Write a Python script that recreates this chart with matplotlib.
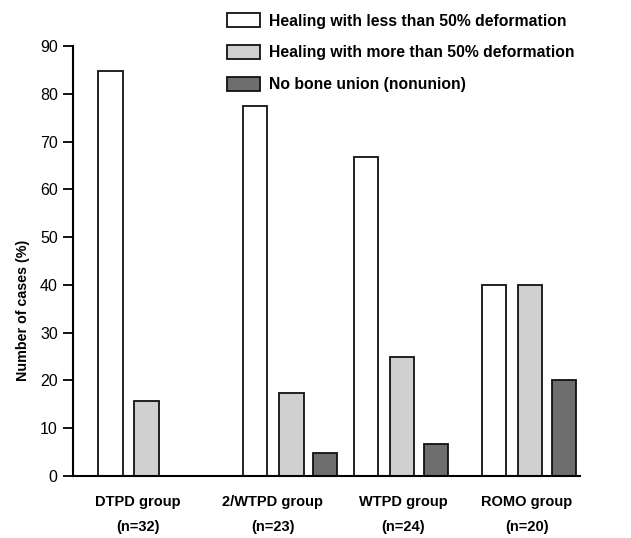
import numpy as np
import matplotlib
matplotlib.use("Agg")
import matplotlib.pyplot as plt

plt.rcParams['font.family'] = ['Liberation Sans', 'DejaVu Sans']

groups = ['DTPD group\n(n=32)', '2/WTPD group\n(n=23)', 'WTPD group\n(n=24)', 'ROMO group\n(n=20)']
less50 = [84.7, 77.4, 66.7, 40.0]
more50 = [15.6, 17.4, 24.9, 40.0]
nonunion = [0, 4.8, 6.7, 20.0]
series_names = ['Healing with less than 50% deformation',
                'Healing with more than 50% deformation',
                'No bone union (nonunion)']
colors = ['white', '#d0d0d0', '#6e6e6e']

# layout (in bar slots)
group_x = np.array([0, 4.14, 7.29, 10.96])
offsets = [0, 1.03, 2.0]
label_x = np.array([0.79, 4.64, 8.36, 11.9])
bw = 0.69

fig = plt.figure(figsize=(6.31, 5.38), dpi=100)
ax = fig.add_axes([0.1157, 0.1152, 0.8033, 0.7993])

handles = []
for vals, off, c, name in zip([less50, more50, nonunion], offsets, colors, series_names):
    v = np.array(vals)
    keep = v > 0
    h = ax.bar(group_x[keep] + off, v[keep], width=bw, color=c,
               edgecolor='#111111', linewidth=1.3, label=name)
    handles.append(h)

ax.set_xlim(-1.07, 13.41)
ax.set_ylim(0, 90)
ax.set_yticks(range(0, 91, 10))
ax.set_xticks(label_x)
ax.set_xticklabels(groups, fontweight='bold', fontsize=10.5, linespacing=2.0)
ax.tick_params(axis='x', length=0, pad=14)
ax.tick_params(axis='y', length=7, width=1.3, labelsize=11.5, pad=4)
for s in ['top', 'right']:
    ax.spines[s].set_visible(False)
for s in ['left', 'bottom']:
    ax.spines[s].set_linewidth(1.5)
ax.set_ylabel('Number of cases (%)', fontweight='bold', fontsize=10.3)
ax.yaxis.set_label_coords(-0.085, 0.386)

fig.legend(handles=handles, loc='upper left', bbox_to_anchor=(0.338, 1.0),
           frameon=False, prop={'weight': 'bold', 'size': 11.3},
           handlelength=2.1, handleheight=0.95, labelspacing=1.07, handletextpad=0.57,
           borderaxespad=0.45)

fig.savefig('out.png', dpi=100)
